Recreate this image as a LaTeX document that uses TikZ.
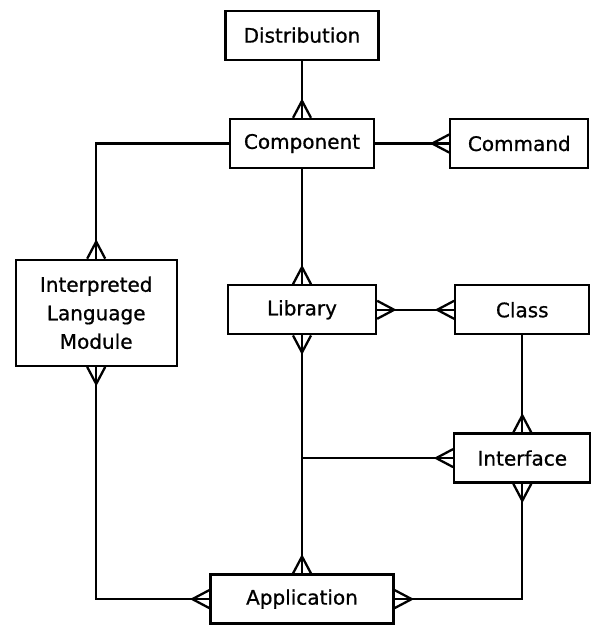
\documentclass[tikz,border=0pt]{standalone}
\usepackage{fontspec}
\setmainfont[FakeBold=0.8]{DejaVu Sans}
\usetikzlibrary{positioning}

% crow's foot tip for the "many" end of a relation
\pgfdeclarearrow{
  name = crow,
  setup code = {
    \pgfarrowssettipend{0pt}
    \pgfarrowssetlineend{0pt}
    \pgfarrowssetbackend{-17pt}
  },
  drawing code = {
    \pgfpathmoveto{\pgfqpoint{0pt}{9pt}}
    \pgfpathlineto{\pgfqpoint{-17pt}{0pt}}
    \pgfpathlineto{\pgfqpoint{0pt}{-9pt}}
    \pgfusepathqstroke
  }
}

\begin{document}
\begin{tikzpicture}[x=1pt,y=1pt,>=crow,line width=2.3pt,
                    font=\fontsize{20}{28.5}\selectfont]
  \tikzstyle{entity}=[draw=black,rectangle,minimum height=49pt,inner sep=2pt,align=center]
  \useasboundingbox (0,0) rectangle (593,-627);

  \node[entity,minimum width=144pt] (comp) at (302,-143.5) {Component};
  \node[entity,minimum width=153pt] (dist) [above=57pt of comp] {Distribution};
  \node[entity,minimum width=138pt] (cmd)  [right=74pt of comp] {Command};
  \node[entity,minimum width=148pt] (lib)  [below=115pt of comp] {Library};
  \node[entity,minimum width=134pt] (cls)  [right=77pt of lib] {Class};
  \node[entity,minimum width=136pt] (intf) [below=97pt of cls] {Interface};
  \node[entity,minimum width=161pt,minimum height=106pt] (ilm) [left=49pt of lib,yshift=-3pt]
    {Interpreted\\Language\\Module};
  \node[entity,minimum width=183pt] (app)  [below=238pt of lib] {Application};
  \coordinate (tee) at (lib |- intf);

  \draw[->] (dist) -- (comp);
  \draw[->] (comp) -- (cmd);
  \draw[->] (comp) -- (lib);
  \draw[->] (comp) -| (ilm);
  \draw[<->] (lib) -- (cls);
  \draw[->] (cls) -- (intf);
  \draw[<->] (lib) -- (app);
  \draw[->] (tee) -- (intf);
  \draw[<->] (ilm) |- (app);
  \draw[<->] (intf) |- (app);
\end{tikzpicture}
\end{document}
